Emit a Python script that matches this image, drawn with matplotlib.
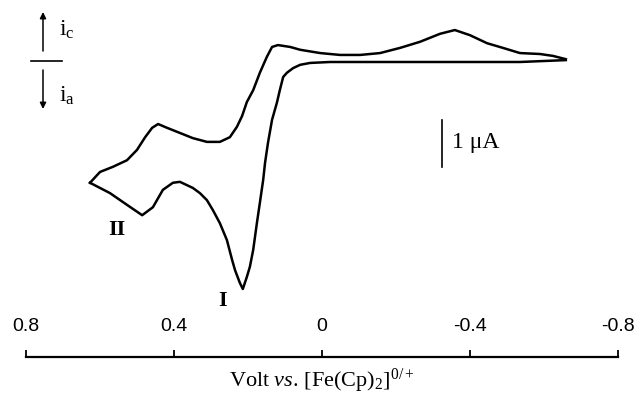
import matplotlib
matplotlib.use('Agg')
import matplotlib.pyplot as plt

plt.rcParams['axes.unicode_minus'] = False
plt.rcParams['mathtext.fontset'] = 'custom'
plt.rcParams['mathtext.rm'] = 'Liberation Serif'
plt.rcParams['mathtext.it'] = 'Liberation Serif:italic'

# lower branch (anodic), read right to left; volts vs Fc, current in uA
volt_lower = [-0.659, -0.535, -0.373, -0.211, -0.076, -0.022, 0.032, 0.059, 0.078,
              0.095, 0.105, 0.114, 0.122, 0.135, 0.146, 0.154, 0.159, 0.168, 0.176,
              0.186, 0.195, 0.203, 0.214, 0.222, 0.235, 0.243, 0.257, 0.276, 0.295,
              0.311, 0.330, 0.349, 0.384, 0.403, 0.430, 0.457, 0.486, 0.527, 0.573,
              0.600, 0.627]
current_lower = [0.04, 0.0, 0.0, 0.0, 0.0, 0.0, -0.02, -0.06, -0.13,
                 -0.23, -0.32, -0.60, -0.87, -1.23, -1.72, -2.15, -2.51, -3.00, -3.43,
                 -4.00, -4.36, -4.57, -4.83, -4.70, -4.43, -4.21, -3.79, -3.43, -3.15,
                 -2.94, -2.79, -2.68, -2.55, -2.57, -2.72, -3.09, -3.26, -3.04, -2.79,
                 -2.68, -2.57]

# upper branch (cathodic return), read left to right
volt_upper = [0.627, 0.600, 0.565, 0.527, 0.500, 0.478, 0.459, 0.443, 0.419,
              0.384, 0.349, 0.311, 0.276, 0.249, 0.230, 0.216, 0.203, 0.186,
              0.168, 0.149, 0.135, 0.119, 0.086, 0.059, 0.005, -0.049, -0.103,
              -0.157, -0.211, -0.265, -0.319, -0.359, -0.400, -0.446, -0.489,
              -0.535, -0.589, -0.624, -0.659]
current_upper = [-2.57, -2.34, -2.23, -2.09, -1.87, -1.60, -1.40, -1.32, -1.40,
                 -1.51, -1.62, -1.70, -1.70, -1.60, -1.38, -1.15, -0.85, -0.60,
                 -0.23, 0.11, 0.32, 0.36, 0.32, 0.26, 0.19, 0.15, 0.15,
                 0.19, 0.30, 0.43, 0.60, 0.68, 0.57, 0.40, 0.30,
                 0.19, 0.17, 0.13, 0.06]

tick_volts = [0.8, 0.4, 0.0, -0.4, -0.8]
tick_labels = ['0.8', '0.4', '0', '-0.4', '-0.8']

W, H = 635, 394
fig = plt.figure(figsize=(W / 100, H / 100), dpi=100)

def fx(px):
    return px / W

def fy(py):
    return 1 - py / H

left, right = 26, 618
axis_y = 357
ax = fig.add_axes([fx(left), fy(axis_y), fx(right - left), axis_y / H])
ax.plot(volt_lower, current_lower, color='black', lw=1.8)
ax.plot(volt_upper, current_upper, color='black', lw=1.8)
ax.set_xlim(0.8, -0.8)
ax.set_ylim(-6.277, 1.319)
ax.axis('off')

# 1 uA scale bar
ax.plot([-0.324, -0.324], [-1.23, -2.23], color='black', lw=1.2)
ax.text(-0.351, -1.72, '1 \u03bcA', fontsize=17, family='Liberation Serif',
        ha='left', va='center')

ax.text(0.268, -5.08, 'I', fontsize=16, family='Liberation Serif',
        weight='bold', ha='center', va='center')
ax.text(0.554, -3.57, 'II', fontsize=16, family='Liberation Serif',
        weight='bold', ha='center', va='center')

# x axis drawn as a separate strip with ticks pointing up
axx = fig.add_axes([fx(left), fy(axis_y), fx(right - left), 0.0005])
axx.set_xlim(0.8, -0.8)
axx.patch.set_visible(False)
for s in ['left', 'right', 'top']:
    axx.spines[s].set_visible(False)
axx.spines['bottom'].set_linewidth(1.6)
axx.set_yticks([])
axx.set_xticks(tick_volts)
axx.set_xticklabels(tick_labels, family='Liberation Sans', fontsize=14)
axx.tick_params(axis='x', bottom=False, top=True, labelbottom=False, labeltop=True,
                direction='out', length=5, width=1.3, pad=11)
axx.set_xlabel(r'$\mathrm{Volt}\ \mathit{vs.}\,\mathrm{[Fe(Cp)_2]^{0/+}}$',
               fontsize=16, labelpad=7)
axx.xaxis.set_label_position('bottom')

# current direction legend
fig.add_artist(plt.Line2D([fx(31), fx(62)], [fy(61), fy(61)], color='black', lw=1.2))
ax.annotate('', xy=(fx(43), fy(12)), xytext=(fx(43), fy(51)),
            xycoords='figure fraction', textcoords='figure fraction',
            arrowprops=dict(arrowstyle='-|>', color='black', lw=1.1,
                            mutation_scale=9, shrinkA=0, shrinkB=0))
ax.annotate('', xy=(fx(43), fy(109)), xytext=(fx(43), fy(70)),
            xycoords='figure fraction', textcoords='figure fraction',
            arrowprops=dict(arrowstyle='-|>', color='black', lw=1.1,
                            mutation_scale=9, shrinkA=0, shrinkB=0))
fig.text(fx(59), fy(30), r'i$_{\mathrm{c}}$', fontsize=17, family='Liberation Serif',
         ha='left', va='center')
fig.text(fx(59), fy(96), r'i$_{\mathrm{a}}$', fontsize=17, family='Liberation Serif',
         ha='left', va='center')

fig.savefig('out.png', dpi=100)
